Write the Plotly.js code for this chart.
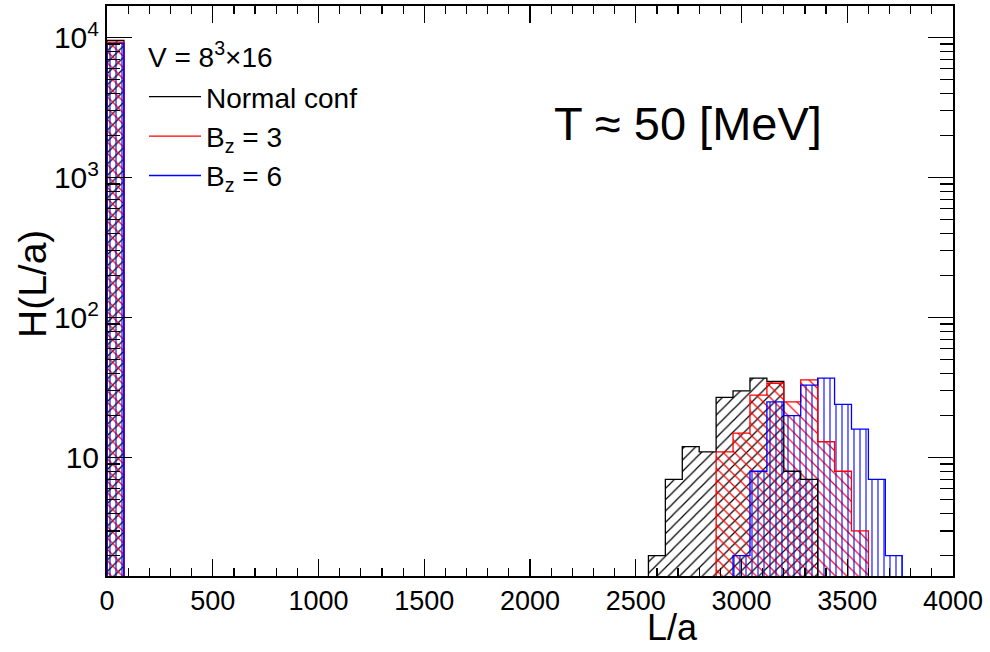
<!DOCTYPE html>
<html>
<head>
<meta charset="utf-8">
<script src="https://cdn.plot.ly/plotly-3.0.1.min.js"></script>
<style>html,body{margin:0;padding:0;background:#fff;}#chart{width:990px;height:652px;}</style>
</head>
<body>
<div id="chart"></div>
<script>
// ---- data ----
const binWidth = 80;          // L/a bin width
const nBins = 50;             // 0 .. 4000
const seriesNames = ['Normal conf', 'B<sub>z</sub> = 3', 'B<sub>z</sub> = 6'];
const seriesColors = ['#000000', '#ff0000', '#0000ff'];
const seriesHatch = ['/', '\\', '|'];
const firstBinCounts = [9550, 9300, 9100];      // bin 0–80
const tailBinStart = [2560, 2640, 2720, 2800, 2880, 2960, 3040, 3120, 3200, 3280, 3360, 3440, 3520, 3600, 3680];
const normalTail = [2, 7, 12, 11, 27, 30, 37, 35, 8, 7, 0, 0, 0, 0, 0];
const bz3Tail    = [0, 0, 0, 0, 11, 15, 28, 34, 25, 36, 13, 8, 3, 0, 0];
const bz6Tail    = [0, 0, 0, 0, 0, 2, 8, 25, 20, 33, 37, 24, 16, 7, 2];
const tails = [normalTail, bz3Tail, bz6Tail];
const xTickVals = [0, 500, 1000, 1500, 2000, 2500, 3000, 3500, 4000];
const yTickVals = [10, 100, 1000, 10000];
const yTickText = ['10', '10<sup>2</sup>', '10<sup>3</sup>', '10<sup>4</sup>'];
const legendHeader = 'V = 8<sup>3</sup>×16';
const tempLabel = 'T ≈ 50 [MeV]';

// ---- build histograms ----
function fullCounts(first, tail) {
  const c = new Array(nBins).fill(0);
  c[0] = first;
  tail.forEach((v, i) => { c[Math.round(tailBinStart[i] / binWidth)] = v; });
  return c;
}
const baseline = 0.01; // below the visible log range, clipped away
const FONT = 'Liberation Sans, Arial, sans-serif';

const barTraces = [];
const lineTraces = [];
for (let s = 0; s < 3; s++) {
  const c = fullCounts(firstBinCounts[s], tails[s]);
  const bx = [], by = [];
  c.forEach((v, k) => { if (v > 0) { bx.push((k + 0.5) * binWidth); by.push(v); } });
  barTraces.push({
    type: 'bar', x: bx, y: by, width: binWidth, showlegend: false, hoverinfo: 'skip',
    marker: {
      color: 'rgba(0,0,0,0)',
      line: {width: 0},
      pattern: {shape: seriesHatch[s], fgcolor: seriesColors[s], bgcolor: 'rgba(0,0,0,0)',
                fgopacity: 1, size: s === 2 ? 6 : 8, solidity: s === 2 ? 0.18 : 0.15}
    }
  });
  const lx = [0], ly = [baseline];
  c.forEach((v, k) => { lx.push((k + 1) * binWidth); ly.push(v > 0 ? v : baseline); });
  lx.push(nBins * binWidth); ly.push(baseline);
  lineTraces.push({
    type: 'scatter', mode: 'lines', x: lx, y: ly, name: seriesNames[s],
    legendgroup: 'g' + s,
    line: {shape: 'vh', color: seriesColors[s], width: 1.3}, hoverinfo: 'skip'
  });
}

const minorY = [];
[1, 10, 100, 1000, 10000].forEach(d => { for (let m = 2; m <= 9; m++) minorY.push(m * d); });

const px2x = px => (px - 107) / 846;
const py2y = py => 1 - (py - 6) / 570;

const layout = {
  width: 990, height: 652,
  margin: {l: 107, r: 37, t: 6, b: 76},
  paper_bgcolor: '#fff', plot_bgcolor: '#fff',
  barmode: 'overlay', bargap: 0,
  font: {family: FONT, color: '#000'},
  showlegend: true,
  legend: {
    x: px2x(144), y: py2y(72), xanchor: 'left', yanchor: 'top',
    bgcolor: 'rgba(0,0,0,0)', borderwidth: 0,
    font: {family: FONT, size: 28, color: '#000'},
    traceorder: 'grouped', tracegroupgap: 0, itemwidth: 52
  },
  xaxis: {
    range: [0, 4000], showgrid: false, zeroline: false,
    showline: true, linecolor: '#000', linewidth: 2, mirror: 'allticks',
    ticks: 'inside', ticklen: 17, tickwidth: 1.2, tickcolor: '#000',
    tickmode: 'array', tickvals: xTickVals,
    tickfont: {family: FONT, size: 27, color: '#000'},
    minor: {ticks: 'inside', ticklen: 8, tickwidth: 1.2, tickcolor: '#000', dtick: 100, showgrid: false}
  },
  yaxis: {
    type: 'log', range: [0.155, 4.226], showgrid: false, zeroline: false,
    showline: true, linecolor: '#000', linewidth: 2, mirror: 'allticks',
    ticks: 'inside', ticklen: 25, tickwidth: 1.2, tickcolor: '#000',
    tickmode: 'array', tickvals: yTickVals, ticktext: yTickText,
    tickfont: {family: FONT, size: 30, color: '#000'},
    minor: {ticks: 'inside', ticklen: 13, tickwidth: 1.2, tickcolor: '#000', tickvals: minorY, showgrid: false}
  },
  annotations: [
    {text: legendHeader, xref: 'paper', yref: 'paper', x: px2x(146), y: py2y(55),
     xanchor: 'left', yanchor: 'middle', showarrow: false, font: {family: FONT, size: 28, color: '#000'}},
    {text: tempLabel, xref: 'paper', yref: 'paper', x: px2x(552), y: py2y(124),
     xanchor: 'left', yanchor: 'middle', showarrow: false, font: {family: FONT, size: 47, color: '#000'}},
    {text: 'L/a', xref: 'paper', yref: 'paper', x: px2x(672), y: py2y(627),
     xanchor: 'center', yanchor: 'middle', showarrow: false, font: {family: FONT, size: 36, color: '#000'}},
    {text: 'H(L/a)', xref: 'paper', yref: 'paper', x: px2x(32), y: py2y(284),
     xanchor: 'center', yanchor: 'middle', textangle: -90, showarrow: false, font: {family: FONT, size: 39, color: '#000'}}
  ]
};

Plotly.newPlot('chart', barTraces.concat(lineTraces), layout, {staticPlot: true, displayModeBar: false});
</script>
</body>
</html>
